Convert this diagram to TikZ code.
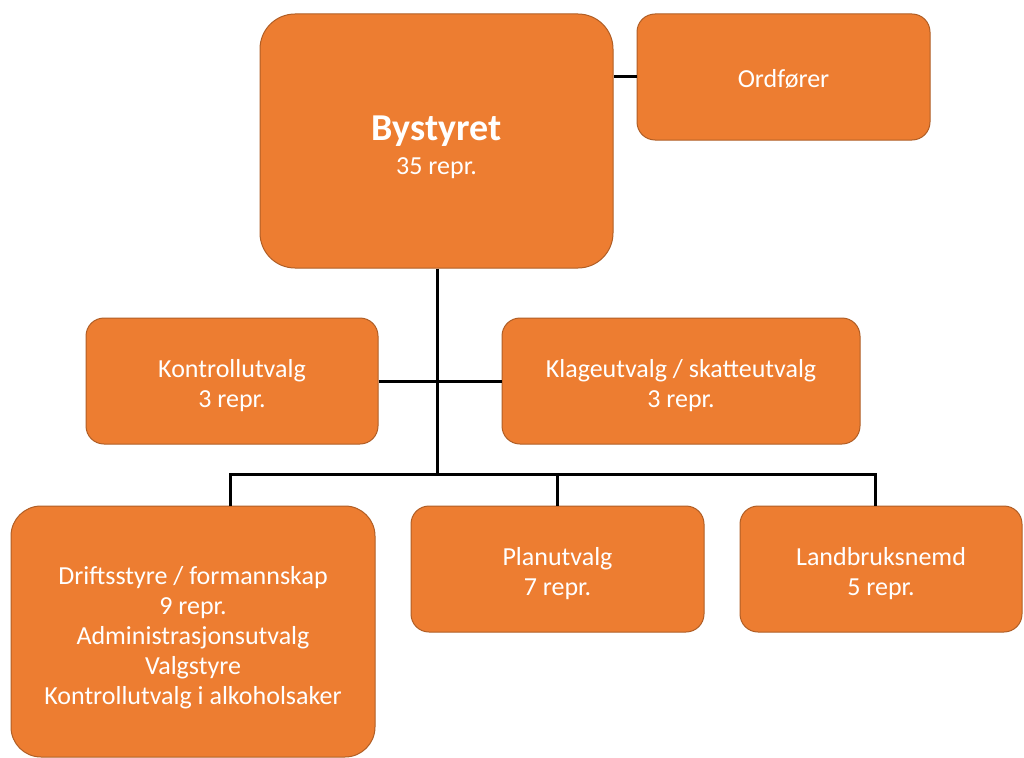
\documentclass[tikz,border=0pt]{standalone}
\usepackage{fontspec}
\setmainfont{Carlito}
\definecolor{boxfill}{HTML}{ED7D31}
\definecolor{boxline}{HTML}{B05E25}
\newcommand{\dropstrut}[1]{\rule{0pt}{#1}}
\begin{document}
\begin{tikzpicture}[x=1pt,y=-1pt,
  orgbox/.style={draw=boxline, line width=1pt, fill=boxfill, rounded corners=18pt,
    text=white, align=center, inner sep=0pt, font=\fontsize{26}{30}\selectfont},
  link/.style={draw=black, line width=3pt}]
\useasboundingbox (0,0) rectangle (1024,757);
\node[orgbox, rounded corners=35pt, minimum width=353pt, minimum height=254pt] (by) at (436.5,141)
  {\dropstrut{37pt}{\fontsize{38}{40}\selectfont\bfseries Bystyret}\\[4pt]35 repr.};
\node[orgbox, minimum width=293pt, minimum height=126pt] (ord) at (783.5,77) {\dropstrut{22pt}Ordfører};
\node[orgbox, minimum width=292pt, minimum height=126pt] (kon) at (232,381) {\dropstrut{26.5pt}Kontrollutvalg\\3 repr.};
\node[orgbox, minimum width=358pt, minimum height=126pt] (kla) at (681,381) {\dropstrut{26.5pt}Klageutvalg / skatteutvalg\\3 repr.};
\node[orgbox, rounded corners=30pt, minimum width=364pt, minimum height=251pt] (dri) at (193,631.5)
  {\dropstrut{30.5pt}Driftsstyre / formannskap\\9 repr.\\Administrasjonsutvalg\\Valgstyre\\Kontrollutvalg i alkoholsaker};
\node[orgbox, minimum width=293pt, minimum height=126pt] (pla) at (557.5,569) {\dropstrut{26.5pt}Planutvalg\\7 repr.};
\node[orgbox, minimum width=282pt, minimum height=126pt] (lan) at (881,569) {\dropstrut{26.5pt}Landbruksnemd\\5 repr.};
\coordinate (hub) at (437,474);
\coordinate (bl) at (230,474);
\coordinate (bm) at (557,474);
\coordinate (br) at (875,474);
\draw[link] (ord.west) -- (ord.west -| by.east);
\draw[link] (by.south -| hub) -- (hub);
\draw[link] (kon.east) -- (kla.west);
\draw[link, line cap=rect] (bl) -- (br);
\draw[link] (bl) -- (bl |- dri.north);
\draw[link] (bm) -- (bm |- pla.north);
\draw[link] (br) -- (br |- lan.north);
\end{tikzpicture}
\end{document}
